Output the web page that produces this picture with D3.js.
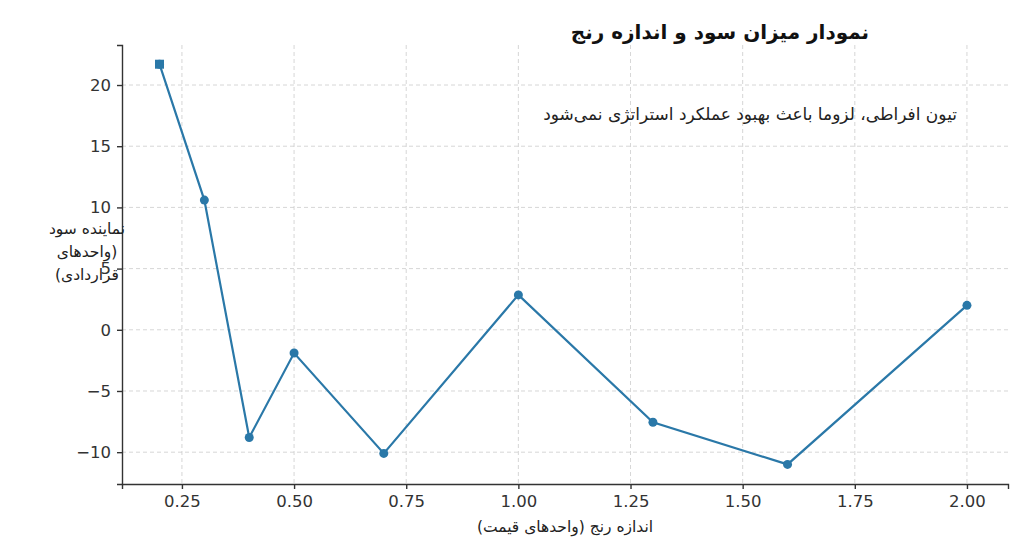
<!DOCTYPE html>
<html><head><meta charset="utf-8">
<script src="https://cdn.jsdelivr.net/npm/d3@7"></script>
<style>body{margin:0;background:#fff}text{font-family:"DejaVu Sans",sans-serif}</style>
</head><body><svg id="chart" width="1024" height="548"></svg>
<script>
const rangeSizes = [0.2, 0.3, 0.4, 0.5, 0.7, 1.0, 1.3, 1.6, 2.0];
const profits = [21.7, 10.6, -8.8, -1.9, -10.1, 2.85, -7.55, -11.0, 2.0];
const xTicks = [0.25, 0.5, 0.75, 1.0, 1.25, 1.5, 1.75, 2.0];
const yTicks = [-10, -5, 0, 5, 10, 15, 20];

const margin = {top: 45, right: 16, bottom: 64, left: 122};
const width = 1024, height = 548;
const svg = d3.select('#chart');
const iw = width - margin.left - margin.right, ih = height - margin.top - margin.bottom;
const chart = svg.append('g').attr('transform', `translate(${margin.left},${margin.top})`);

const x = d3.scaleLinear().domain([0.1164, 2.0915]).range([0, iw]);
const y = d3.scaleLinear().domain([-12.6, 23.27]).range([ih, 0]);

// grid
chart.append('g').selectAll('line').data(xTicks).join('line')
  .attr('x1', d => x(d)).attr('x2', d => x(d)).attr('y1', 0).attr('y2', ih)
  .attr('stroke', '#ccc').attr('stroke-dasharray', '4,3').attr('stroke-width', 0.8);
chart.append('g').selectAll('line').data(yTicks).join('line')
  .attr('y1', d => y(d)).attr('y2', d => y(d)).attr('x1', 0).attr('x2', iw)
  .attr('stroke', '#ccc').attr('stroke-dasharray', '4,3').attr('stroke-width', 0.8);

const xAxis = chart.append('g').attr('transform', `translate(0,${ih})`)
  .call(d3.axisBottom(x).tickValues(xTicks).tickFormat(d3.format('.2f')).tickSizeOuter(0).tickSize(5).tickPadding(6));
const yAxis = chart.append('g')
  .call(d3.axisLeft(y).tickValues(yTicks).tickFormat(d => d < 0 ? '\u2212' + Math.abs(d) : d).tickSizeOuter(0).tickSize(5).tickPadding(6));
[xAxis, yAxis].forEach(a => {
  a.selectAll('text').attr('font-size', 16.5).attr('fill', '#333').style('font-family', '"DejaVu Sans",sans-serif');
  a.selectAll('line,path').attr('stroke', '#333').attr('stroke-width', 1.4);
});

const pts = rangeSizes.map((d, i) => ({x: d, y: profits[i]}));
chart.append('path').datum(pts)
  .attr('d', d3.line().x(d => x(d.x)).y(d => y(d.y)))
  .attr('fill', 'none').attr('stroke', '#2a78a8').attr('stroke-width', 2.2);
chart.selectAll('circle').data(pts).join('circle')
  .attr('cx', d => x(d.x)).attr('cy', d => y(d.y)).attr('r', 4.5).attr('fill', '#2a78a8');
// first point marked with square + x
chart.append('rect').attr('x', x(pts[0].x) - 4.5).attr('y', y(pts[0].y) - 4.5)
  .attr('width', 9).attr('height', 9).attr('fill', '#2a78a8');

svg.append('text').attr('x', 720).attr('y', 39).attr('text-anchor', 'middle').attr('direction', 'rtl')
  .attr('font-size', 20).attr('font-weight', 'bold').attr('fill', '#111').text('نمودار میزان سود و اندازه رنج');
svg.append('text').attr('x', 957).attr('y', 120).attr('text-anchor', 'start').attr('direction', 'rtl')
  .attr('font-size', 17).attr('fill', '#222').text('تیون افراطی، لزوما باعث بهبود عملکرد استراتژی نمی‌شود');
svg.append('text').attr('x', 565).attr('y', 532).attr('text-anchor', 'middle').attr('direction', 'rtl')
  .attr('font-size', 15.5).attr('fill', '#222').text('اندازه رنج (واحدهای قیمت)');
['نماینده سود', '(واحدهای', 'قراردادی)'].forEach((t, i) => {
  svg.append('text').attr('x', 87).attr('y', 234 + i * 23).attr('text-anchor', 'middle').attr('direction', 'rtl')
    .attr('font-size', 15.5).attr('fill', '#222').text(t);
});
</script></body></html>
